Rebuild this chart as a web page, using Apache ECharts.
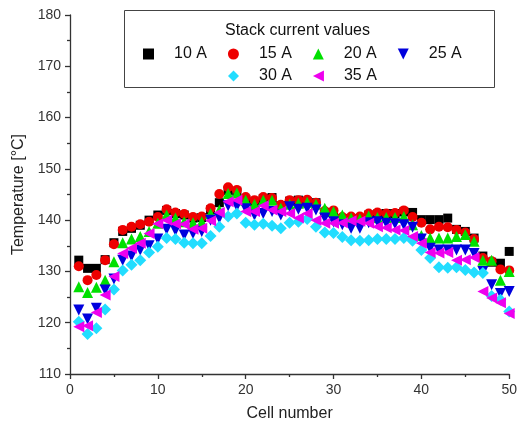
<!DOCTYPE html>
<html>
<head>
<meta charset="utf-8">
<script src="https://cdn.jsdelivr.net/npm/echarts@6/dist/echarts.min.js"></script>
<style>html,body{margin:0;padding:0;background:#fff;}#c{width:520px;height:430px;}</style>
</head>
<body>
<div id="c"></div>
<script>
const cells = [1,2,3,4,5,6,7,8,9,10,11,12,13,14,15,16,17,18,19,20,21,22,23,24,25,26,27,28,29,30,31,32,33,34,35,36,37,38,39,40,41,42,43,44,45,46,47,48,49,50];
const t10A = [132.2,130.6,130.6,132.3,135.6,137.8,138.4,139.0,140.0,141.0,141.9,141.3,141.0,140.4,140.5,142.0,143.4,145.8,145.5,144.0,143.5,144.2,144.4,142.8,143.7,143.9,143.6,143.4,141.5,141.4,140.3,140.3,140.3,141.0,141.2,141.3,141.3,141.6,141.5,140.1,140.1,140.1,140.4,138.2,137.8,136.5,133.0,131.8,131.6,133.9];
const t15A = [131.0,128.3,129.3,132.2,135.3,138.1,138.7,139.2,139.7,140.6,142.1,141.5,141.2,140.6,140.7,142.3,145.1,146.4,145.9,144.5,143.9,144.5,144.3,143.0,143.9,143.9,144.0,143.4,141.8,141.9,140.6,140.7,140.7,141.3,141.5,141.3,141.4,141.9,140.6,139.5,138.2,138.7,138.6,138.1,137.6,136.3,132.6,132.0,130.4,130.2];
const t20A = [127.0,125.9,126.9,128.3,131.9,135.6,136.3,136.8,137.8,139.4,141.0,140.4,139.7,139.5,139.7,141.3,142.0,145.2,145.3,143.9,143.1,143.9,143.9,142.3,143.1,143.3,143.5,143.1,142.3,141.7,141.0,140.4,140.2,140.8,140.5,140.5,140.5,140.7,139.1,137.0,136.5,136.5,136.5,136.8,137.2,135.9,132.2,132.2,128.3,130.0];
const t25A = [122.5,120.7,122.8,126.4,128.5,132.2,133.0,134.2,135.0,136.3,138.2,138.0,137.1,137.4,137.8,140.0,140.4,142.8,142.7,142.2,141.0,141.3,141.7,141.0,142.6,142.1,142.3,142.0,140.4,139.7,139.1,138.4,138.4,139.5,139.7,139.4,139.3,139.1,138.6,136.3,134.5,134.2,134.2,134.2,134.2,133.5,130.0,127.4,125.7,126.1];
const t30A = [120.2,117.8,118.9,122.6,126.5,130.2,131.3,132.2,133.7,134.8,136.5,136.3,135.6,135.5,135.5,136.9,138.7,140.7,141.3,139.5,139.1,139.3,138.9,138.4,139.5,139.7,140.2,138.7,137.6,137.5,136.7,136.1,136.0,136.1,136.3,136.3,136.3,136.5,136.0,134.2,132.6,130.8,130.7,130.8,130.3,129.8,129.7,125.2,124.5,122.2];
const t35A = [119.2,119.4,122.0,125.4,129.0,133.5,134.5,135.5,137.4,139.3,140.0,139.3,139.2,138.2,138.4,139.9,141.5,143.6,143.9,141.7,141.7,142.8,142.0,141.7,141.3,140.4,141.3,140.0,139.4,139.4,139.5,139.9,139.8,139.4,138.7,138.5,138.1,138.0,136.8,135.5,133.7,133.6,133.7,132.2,132.3,132.7,126.1,124.8,123.9,121.8];
const seriesNames = ['10 A','15 A','20 A','25 A','30 A','35 A'];
const xTicks = [0,10,20,30,40,50];
const yTicks = [110,120,130,140,150,160,170,180];

const values = [t10A,t15A,t20A,t25A,t30A,t35A];
const TRI_DOWN = 'path://M0,0 L10,0 L5,10 Z';
const TRI_LEFT = 'path://M10,0 L10,10 L0,5 Z';
const styles = [
  {symbol:'rect', size:9, color:'#000000'},
  {symbol:'circle', size:10, color:'#ee0000'},
  {symbol:'triangle', size:11, color:'#00e000'},
  {symbol:TRI_DOWN, size:11, color:'#0000dd'},
  {symbol:'diamond', size:12, color:'#22ddff'},
  {symbol:TRI_LEFT, size:11, color:'#ee00ee'}
];
const font = 'Liberation Sans, Arial, sans-serif';
const chart = echarts.init(document.getElementById('c'), null, {renderer:'canvas'});
const legendText = {fontFamily:font, fontSize:16, color:'#111', padding:[0,0,0,15]};
const legendItems = seriesNames.map((n,k)=>({name:n, icon:styles[k].symbol}));
chart.setOption({
  animation:false,
  backgroundColor:'#fff',
  grid:{left:70, right:8, top:15, bottom:56},
  title:{text:'Stack current values', left:220, top:18, textStyle:{fontFamily:font, fontSize:16, fontWeight:'normal', color:'#111'}},
  graphic:[{type:'rect', shape:{x:124.5, y:10.5, width:370, height:77}, style:{fill:'#fff', stroke:'#444', lineWidth:1}, z:0}],
  legend:[
    {data:legendItems.slice(0,4), left:138, top:41, itemWidth:11, itemHeight:11, itemGap:21, textStyle:legendText, z:5},
    {data:legendItems.slice(4), left:223, top:63, itemWidth:11, itemHeight:11, itemGap:21, textStyle:legendText, z:5}
  ],
  xAxis:{
    type:'value', min:xTicks[0], max:xTicks[xTicks.length-1], interval:10,
    name:'Cell number', nameLocation:'middle', nameGap:32,
    nameTextStyle:{fontFamily:font, fontSize:16, color:'#222'},
    axisLine:{show:true, onZero:false, lineStyle:{color:'#333', width:1.3}},
    axisTick:{show:true, inside:false, length:5, lineStyle:{color:'#333', width:1.3}},
    minorTick:{show:true, splitNumber:2, length:3, lineStyle:{color:'#333', width:1.3}},
    axisLabel:{fontFamily:font, fontSize:14, color:'#333', margin:9},
    splitLine:{show:false}
  },
  yAxis:{
    type:'value', min:yTicks[0], max:yTicks[yTicks.length-1], interval:10,
    name:'Temperature [°C]', nameLocation:'middle', nameGap:39,
    nameTextStyle:{fontFamily:font, fontSize:16, color:'#222'},
    axisLine:{show:true, onZero:false, lineStyle:{color:'#333', width:1.3}},
    axisTick:{show:true, inside:false, length:5, lineStyle:{color:'#333', width:1.3}},
    minorTick:{show:true, splitNumber:2, length:3, lineStyle:{color:'#333', width:1.3}},
    axisLabel:{fontFamily:font, fontSize:14, color:'#333', margin:9},
    splitLine:{show:false}
  },
  series: seriesNames.map((n,k)=>({
    name:n, type:'scatter',
    symbol:styles[k].symbol, symbolSize:styles[k].size,
    itemStyle:{color:styles[k].color, opacity:1},
    data: cells.map((c,i)=>[c, values[k][i]])
  }))
});
</script>
</body>
</html>
